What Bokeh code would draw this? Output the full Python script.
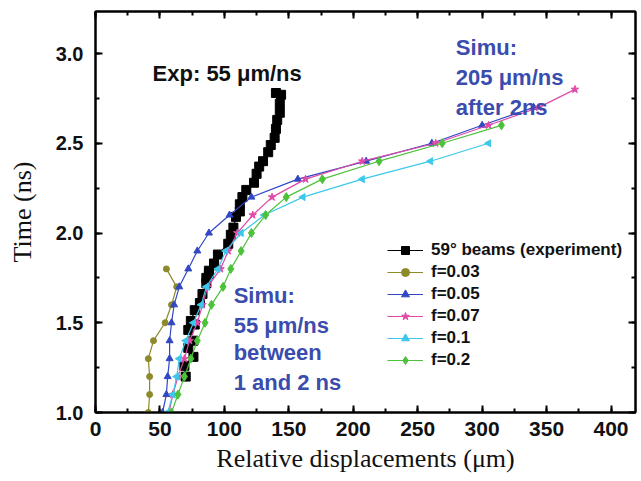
import math
from bokeh.plotting import figure
from bokeh.models import (Range1d, LinearAxis, SingleIntervalTicker, PrintfTickFormatter,
                          CustomJSTickFormatter, Legend, LegendItem, Label)
from bokeh.embed import file_html
from bokeh.resources import INLINE

# ---------------- data ----------------
exp_time = [1.20, 1.26, 1.31, 1.36, 1.40, 1.46, 1.49, 1.51, 1.57, 1.61, 1.66, 1.72, 1.75,
            1.77, 1.79, 1.82, 1.83, 1.88, 1.94, 1.99, 2.03, 2.09, 2.12, 2.16, 2.20, 2.24,
            2.28, 2.33, 2.37, 2.40, 2.45, 2.49, 2.53, 2.58, 2.63, 2.67, 2.72, 2.77, 2.78]
exp_disp = [70, 69, 76, 72, 76, 72, 77, 74, 77, 81, 83, 86, 86,
            88, 88, 92, 92, 95, 103, 105, 107, 109, 112, 112, 114, 117,
            123, 125, 127, 130, 134, 136, 139, 140, 141, 143, 143, 144, 140]

f003_time = [1.0, 1.1, 1.2, 1.3, 1.4, 1.5, 1.6, 1.7, 1.8]
f003_disp = [41, 42, 42, 41, 45, 54, 59, 63, 55]

f005_time = [1.0, 1.1, 1.2, 1.3, 1.4, 1.5, 1.6, 1.7, 1.8, 1.9, 2.0, 2.1, 2.2, 2.3, 2.4, 2.5, 2.6, 2.7]
f005_disp = [52, 55, 56, 57.5, 57.5, 59, 61, 65, 72, 79, 88, 104, 121, 157, 210, 261, 300, 340]

f007_time = [1.0, 1.1, 1.2, 1.3, 1.4, 1.5, 1.6, 1.7, 1.8, 1.9, 2.0, 2.1, 2.2, 2.3, 2.4, 2.5, 2.6, 2.7, 2.8]
f007_disp = [57, 60, 64, 69, 73, 79, 83, 87, 97, 103, 110, 122, 137, 163, 207, 264, 305, 344, 372]

f01_time = [1.0, 1.1, 1.2, 1.3, 1.4, 1.5, 1.6, 1.7, 1.8, 1.9, 2.0, 2.1, 2.2, 2.3, 2.4, 2.5]
f01_disp = [56, 60, 63, 65, 70, 76, 82, 86, 95, 101, 113, 131, 161, 207, 260, 305]

f02_time = [1.0, 1.1, 1.2, 1.3, 1.4, 1.5, 1.6, 1.7, 1.8, 1.9, 2.0, 2.1, 2.2, 2.3, 2.4, 2.5, 2.6]
f02_disp = [59, 64, 69, 74, 79, 85, 90, 99, 105, 113, 121, 132, 148, 176, 220, 269, 315]

x_ticks_interval = 50
y_ticks_interval = 0.5

labels = ["59\u00b0 beams (experiment)", "f=0.03", "f=0.05", "f=0.07", "f=0.1", "f=0.2"]

# ---------------- figure ----------------
SANS = "Liberation Sans"
SERIF = "Liberation Serif"

p = figure(width=641, height=481, output_backend="svg", toolbar_location=None,
           x_range=Range1d(0, 419), y_range=Range1d(1.0, 3.234),
           min_border_left=95, min_border_right=6, min_border_top=11, min_border_bottom=69,
           x_axis_label="Relative displacements (\u03bcm)", y_axis_label="Time (ns)")
p.xgrid.visible = False
p.ygrid.visible = False
p.outline_line_color = "black"
p.outline_line_width = 2
p.background_fill_color = "white"
p.border_fill_color = "white"

xt = SingleIntervalTicker(interval=x_ticks_interval, num_minor_ticks=2)
yt = SingleIntervalTicker(interval=y_ticks_interval, num_minor_ticks=2)

def style_axis(ax, show_labels):
    ax.axis_line_width = 2
    ax.axis_line_color = "black"
    ax.major_tick_in = 7
    ax.major_tick_out = 0
    ax.minor_tick_in = 4
    ax.minor_tick_out = 0
    ax.major_tick_line_width = 2
    ax.minor_tick_line_width = 2
    ax.major_tick_line_color = "black"
    ax.minor_tick_line_color = "black"
    if show_labels:
        ax.major_label_text_font = SANS
        ax.major_label_text_font_style = "bold"
        ax.major_label_text_font_size = "20px"
        ax.major_label_text_color = "#111111"
        ax.axis_label_text_font = SERIF
        ax.axis_label_text_font_style = "normal"
        ax.axis_label_text_font_size = "26px"
        ax.axis_label_text_color = "#111111"
    else:
        ax.formatter = CustomJSTickFormatter(code="return ''")
        ax.major_label_standoff = 0

xa = p.xaxis[0]
ya = p.yaxis[0]
xa.ticker = xt
ya.ticker = yt
ya.formatter = PrintfTickFormatter(format="%.1f")
style_axis(xa, True)
style_axis(ya, True)
xa.major_label_text_font_size = "21px"
xa.major_label_standoff = 9
xa.axis_label_standoff = 5
ya.major_label_standoff = 12
ya.axis_label_standoff = 16

top = LinearAxis(ticker=SingleIntervalTicker(interval=x_ticks_interval, num_minor_ticks=2))
right = LinearAxis(ticker=SingleIntervalTicker(interval=y_ticks_interval, num_minor_ticks=2))
style_axis(top, False)
style_axis(right, False)
p.add_layout(top, "above")
p.add_layout(right, "right")

# ---------------- series ----------------
series = [
    (exp_disp, exp_time, "black", "square", 9, 0),
    (f003_disp, f003_time, "#8c8a2a", "circle", 6, 0),
    (f005_disp, f005_time, "#3147c4", "triangle", 7, 0),
    (f007_disp, f007_time, "#e04aa8", "star", 8, 0),
    (f01_disp, f01_time, "#3cc8ea", "triangle", 7, math.pi / 2),
    (f02_disp, f02_time, "#4cc23a", "diamond", 9, 0),
]

items = []
for (xs, ys, col, marker, size, ang), lab in zip(series, labels):
    lr = p.line(xs, ys, line_color=col, line_width=1.2)
    sr = p.scatter(xs, ys, marker=marker, size=size, angle=ang,
                   fill_color=col, line_color=col)
    items.append(LegendItem(label=lab, renderers=[lr, sr]))

legend = Legend(items=items, location=(288, 38), orientation="vertical",
                label_text_font=SANS, label_text_font_style="bold",
                label_text_font_size="17px", label_text_color="#111111",
                glyph_width=36, glyph_height=20, label_height=20, spacing=2,
                label_standoff=8, padding=4, margin=0,
                border_line_alpha=0, background_fill_alpha=0)
p.add_layout(legend, "center")

# ---------------- annotations ----------------
BLUE = "#3a4cad"

def add_text(x, y, txt, color):
    p.add_layout(Label(x=x, y=y, text=txt, text_color=color, text_font=SANS,
                       text_font_style="bold", text_font_size="22px",
                       text_baseline="alphabetic", text_align="left"))

add_text(44.3, 2.889, "Exp: 55 \u03bcm/ns", "#111111")

add_text(279.6, 3.033, "Simu:", BLUE)
add_text(279.6, 2.866, "205 \u03bcm/ns", BLUE)
add_text(279.6, 2.699, "after 2ns", BLUE)

add_text(107.2, 1.652, "Simu:", BLUE)
add_text(107.2, 1.485, "55 \u03bcm/ns", BLUE)
add_text(107.2, 1.334, "between", BLUE)
add_text(107.2, 1.167, "1 and 2 ns", BLUE)

open("out.html", "w").write(file_html(p, INLINE))
